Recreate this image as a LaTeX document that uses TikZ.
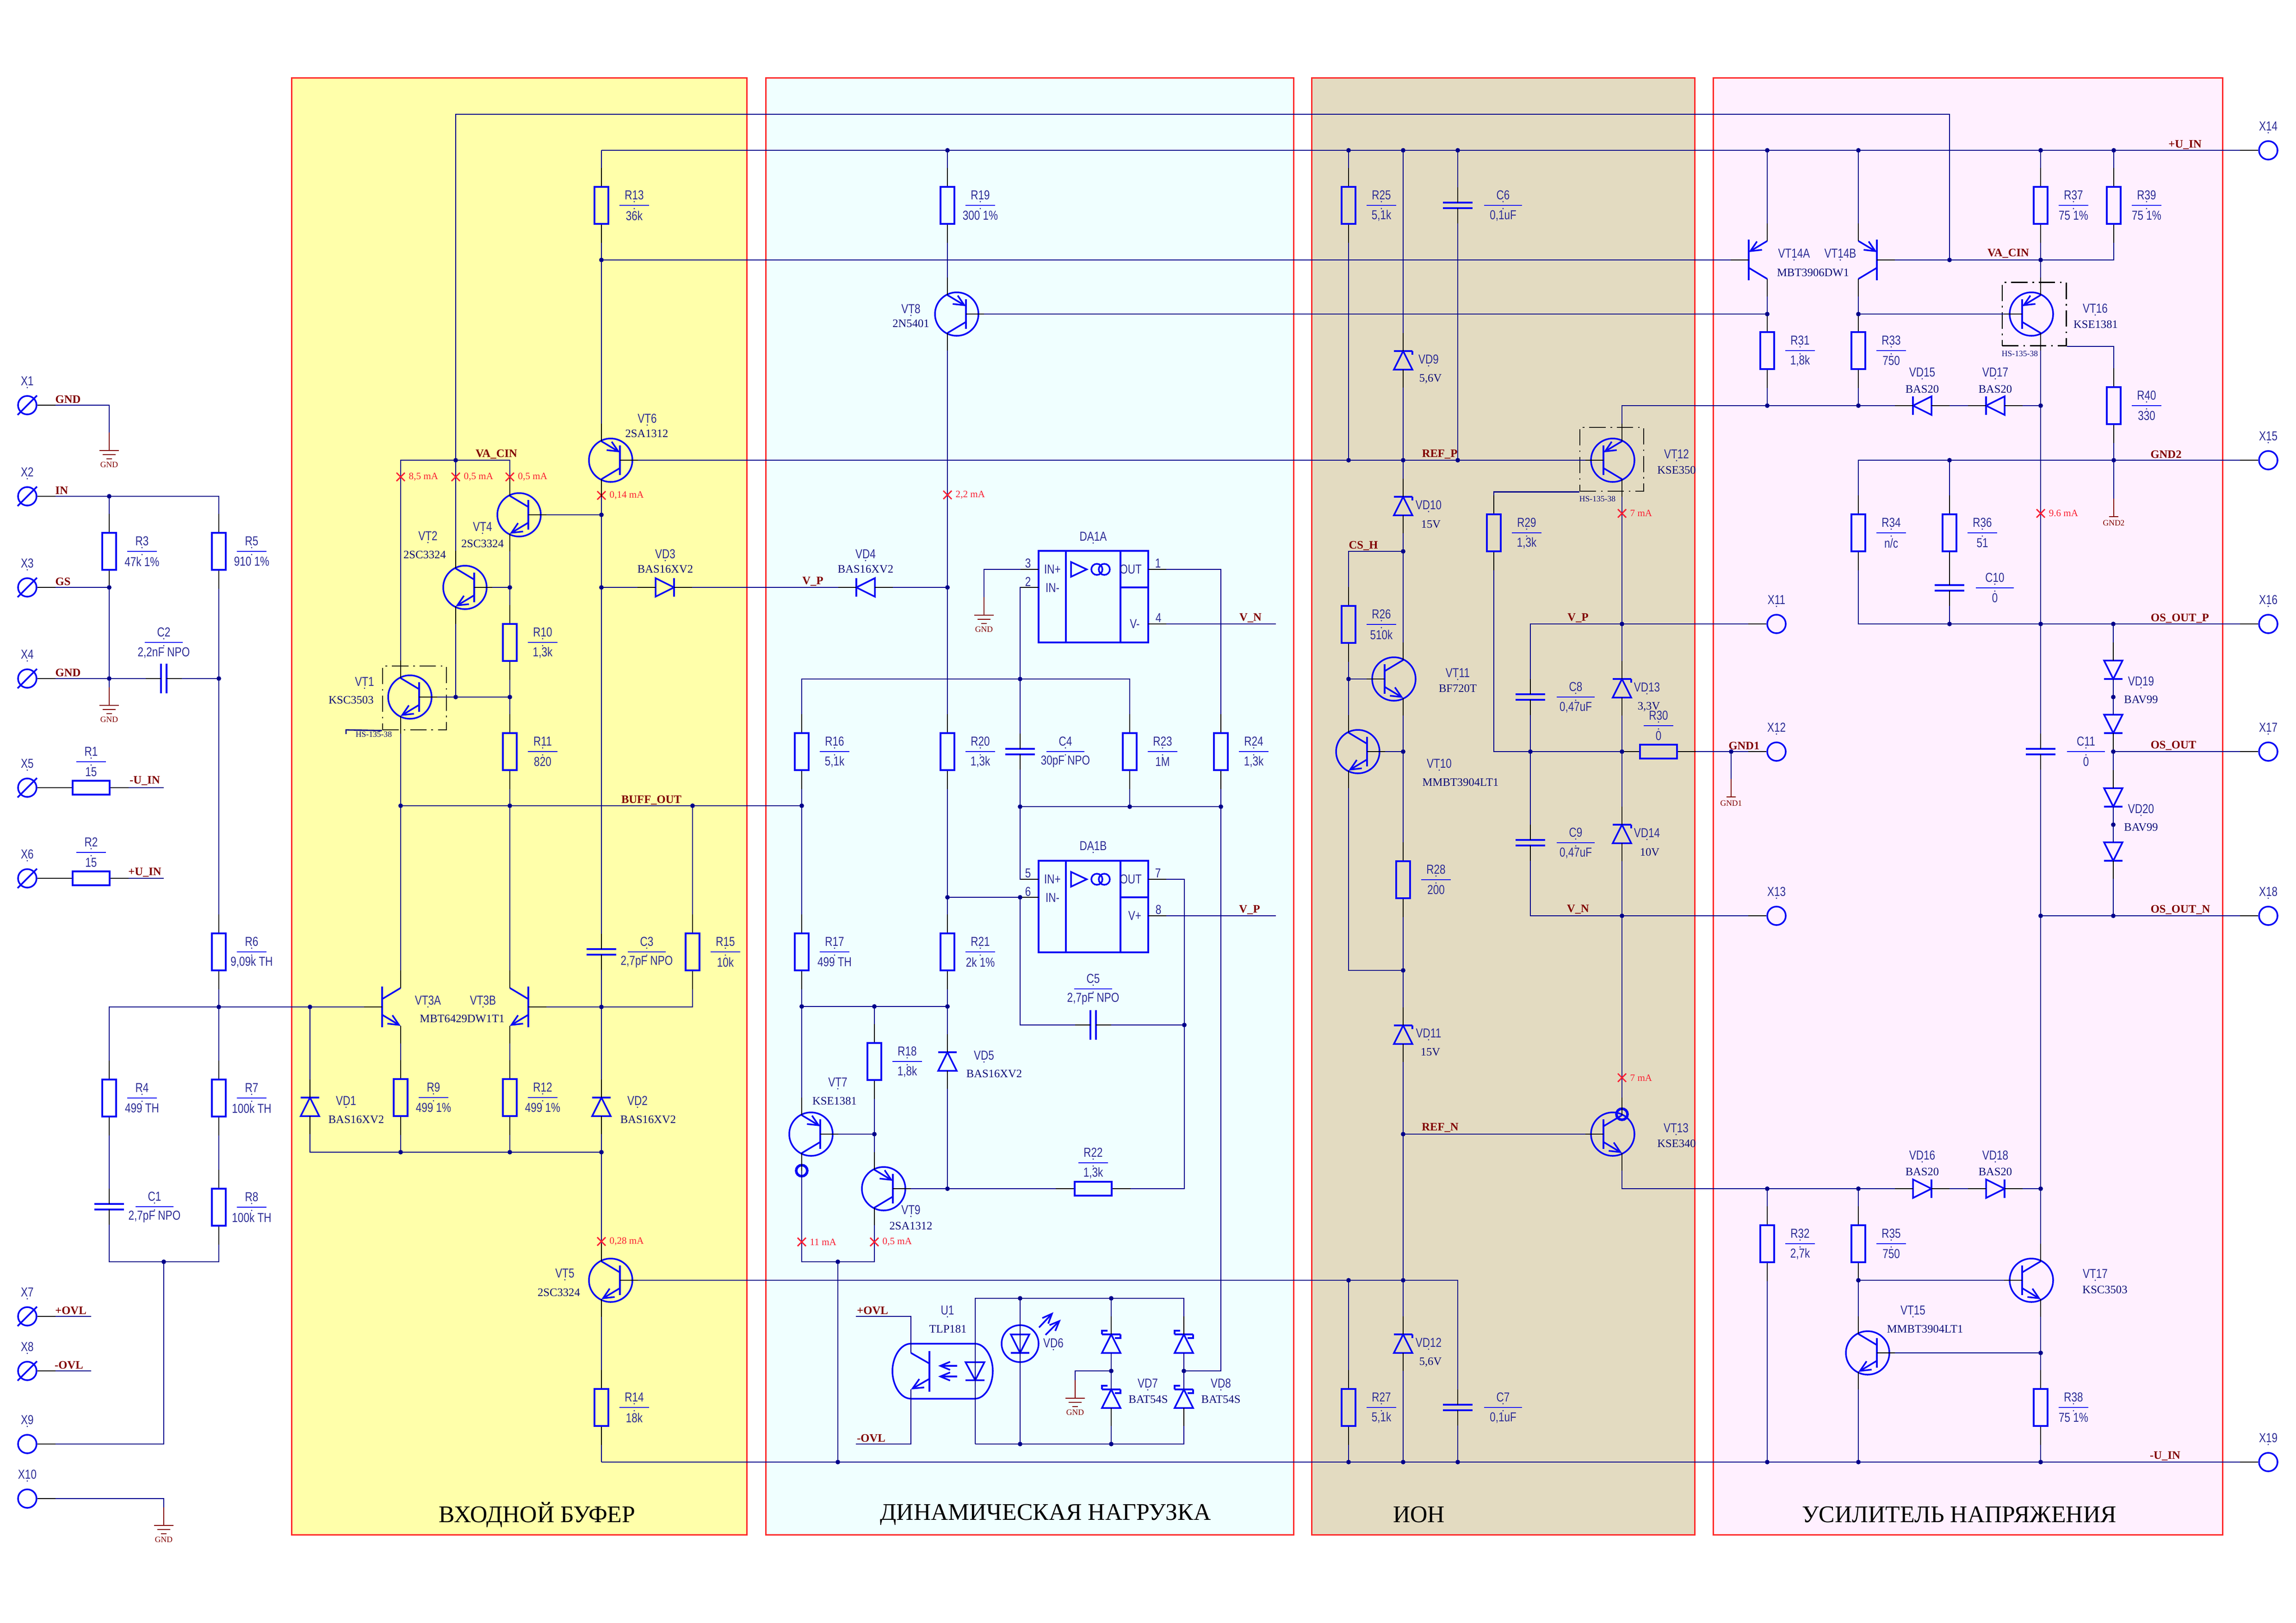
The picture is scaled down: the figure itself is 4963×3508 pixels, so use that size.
\documentclass[tikz,border=0pt]{standalone}
\usepackage{fontspec}
\setmainfont{Liberation Serif}
\newfontfamily\cad[FakeStretch=0.8]{Liberation Sans}
\usetikzlibrary{arrows.meta,calc}
\pgfdeclarelayer{top}\pgfsetlayers{main,top}
\definecolor{wirec}{RGB}{0,0,139}
\definecolor{compc}{RGB}{10,10,245}
\definecolor{cadc}{RGB}{45,45,150}
\definecolor{partc}{RGB}{12,12,120}
\definecolor{netc}{RGB}{128,0,0}
\definecolor{curc}{RGB}{250,30,50}
\definecolor{py}{RGB}{255,255,170}
\definecolor{pc}{RGB}{240,255,255}
\definecolor{pt}{RGB}{227,219,193}
\definecolor{pp}{RGB}{255,240,255}
\definecolor{pr}{RGB}{255,40,40}
\newcount\tcnt
\tikzset{
 wire/.style={draw=wirec,line width=.8pt},
 comp/.style={draw=compc,line width=1pt},
 stub/.style={draw=black,line width=.8pt},
 nostub/.style={draw=none},
 panel/.style={draw=pr,line width=.85pt},
 cadt/.style={inner sep=0,text=cadc,font=\cad\fontsize{8}{8}\selectfont},
 partt/.style={inner sep=0,text=partc,font=\fontsize{7}{7}\selectfont},
 nett/.style={inner sep=0,text=netc,font=\bfseries\fontsize{7}{7}\selectfont},
 titlet/.style={inner sep=0,text=black,font=\fontsize{14.7}{14.7}\selectfont},
 curt/.style={inner sep=0,text=curc,anchor=west,font=\fontsize{6}{6}\selectfont},
 gndt/.style={inner sep=0,text=netc,font=\fontsize{5}{5}\selectfont},
 hst/.style={inner sep=0,text=partc,font=\fontsize{5}{5}\selectfont},
 resv/.style={comp,inner sep=0,minimum width=.3cm,minimum height=.8cm},
 resh/.style={comp,inner sep=0,minimum width=.8cm,minimum height=.3cm},
 termc/.style={comp,circle,inner sep=0,minimum size=.4cm},
 hsbox/.style={draw=black,line width=.8pt,inner sep=0,dash pattern=on 10pt off 3pt on 1pt off 3pt},
 dirU/.style={x={(.01cm,0)},y={(0,-.01cm)}},
 dirD/.style={x={(.01cm,0)},y={(0,.01cm)}},
 dirL/.style={x={(0,.01cm)},y={(.01cm,0)}},
 dirR/.style={x={(0,.01cm)},y={(-.01cm,0)}},
 eout/.style={-{Straight Barb[length=6.5pt,width=6pt]}},
 ein/.style={{Straight Barb[length=6.5pt,width=6pt]}-},
 hsup/.style={-{Straight Barb[length=6pt,width=5pt]}},
}
% text helpers
\newcommand{\T}[4]{\global\advance\tcnt by 1\node[#1] (txt\the\tcnt) at (#2,#3) {#4};}
\newcommand{\tdot}[2]{\fill[cadc] (#1,#2) circle (1.6);}
\newcommand{\Cn}[3]{\T{cadt}{#1}{#2}{#3}\tdot{#1}{#2+14}}
\newcommand{\Cv}[3]{\T{cadt}{#1}{#2}{#3}\tdot{#1}{#2-15}}
\newcommand{\Pt}[3]{\T{partt}{#1}{#2}{#3}}
\newcommand{\Nt}[3]{\T{nett}{#1}{#2}{#3}}
% junction
\newcommand{\jn}[3]{\coordinate (#1) at (#2,#3);\begin{pgfonlayer}{top}\fill[wirec] (#1) circle (5);\end{pgfonlayer}}
% resistors: name,x,y,ref,val
\newcommand{\vres}[5]{\node[resv] (#1) at (#2,#3) {};
 \begin{pgfonlayer}{top}\draw[stub] (#1.north) -- ++(0,-39);\draw[stub] (#1.south) -- ++(0,39);\end{pgfonlayer}
 \begin{scope}[shift={(#2,#3)}]\draw[comp,line width=.7pt] (39,0) -- (103,0);\Cn{71}{-22}{#4}\Cv{71}{22}{#5}\end{scope}}
\newcommand{\hres}[5]{\node[resh] (#1) at (#2,#3) {};
 \begin{pgfonlayer}{top}\draw[stub] (#1.west) -- ++(-39,0);\draw[stub] (#1.east) -- ++(39,0);\end{pgfonlayer}
 \begin{scope}[shift={(#2,#3)}]\draw[comp,line width=.7pt] (-32,-56) -- (32,-56);\Cn{0}{-78}{#4}\Cv{0}{-34}{#5}\end{scope}}
% capacitors
\newcommand{\vcap}[5]{\begin{scope}[shift={(#2,#3)}]
 \coordinate (#1-u) at (0,-6);\coordinate (#1-d) at (0,6);
 \draw[comp] (-32,-6) -- (32,-6) (-32,6) -- (32,6);
 \begin{pgfonlayer}{top}\draw[stub] (0,-6) -- (0,-39) (0,6) -- (0,39);\end{pgfonlayer}
 \draw[comp,line width=.7pt] (57,0) -- (139,0);\Cn{98}{-22}{#4}\Cv{98}{22}{#5}\end{scope}}
\newcommand{\hcap}[5]{\begin{scope}[shift={(#2,#3)}]
 \coordinate (#1-l) at (-6,0);\coordinate (#1-r) at (6,0);
 \draw[comp] (-6,-32) -- (-6,32) (6,-32) -- (6,32);
 \begin{pgfonlayer}{top}\draw[stub] (-6,0) -- (-39,0) (6,0) -- (39,0);\end{pgfonlayer}
 \draw[comp,line width=.7pt] (-41,-78) -- (41,-78);\Cn{0}{-100}{#4}\Cv{0}{-56}{#5}\end{scope}}
% transistors: name,x,y,base side,emitter side,emitter arrow
\newcommand{\trbody}[3]{%
 \coordinate (#1-b) at (20,0);\coordinate (#1-c) at (-20,-41);\coordinate (#1-e) at (-20,41);
 \draw[comp] (20,-#2) -- (20,#2);
 \draw[comp] (20,-17) -- (-20,-41);
 \draw[comp,#3] (20,17) -- (-20,41);
 \begin{pgfonlayer}{top}\draw[stub] (20,0) -- (59,0) (-20,-41) -- (-20,-79) (-20,41) -- (-20,79);\end{pgfonlayer}}
\newcommand{\trn}[6]{\begin{scope}[shift={(#2,#3)},x={(#4*.01cm,0)},y={(0,#5*-.01cm)}]
 \draw[comp] (0,0) circle (47);\trbody{#1}{32}{#6}\end{scope}}
\newcommand{\trd}[6]{\begin{scope}[shift={(#2,#3)},x={(#4*.01cm,0)},y={(0,#5*-.01cm)}]
 \trbody{#1}{44}{#6}\end{scope}}
% diodes: [stub style] name,x,y,direction,bar drawing
\newcommand{\bplain}{}
\newcommand{\bzener}{\draw[comp] (20,-20) -- (20,-12);}
\newcommand{\bschot}{\draw[comp] (-20,-20) -- (-20,-28) -- (-8,-28) (20,-20) -- (20,-12) -- (8,-12);}
\newcommand{\dio}[6][stub]{\begin{scope}[shift={(#3,#4)},#5]
 \coordinate (#2-a) at (0,-20);\coordinate (#2-k) at (0,20);
 \draw[comp] (-20,20) -- (20,20) -- (0,-20) -- cycle;
 \draw[comp] (-20,-20) -- (20,-20);#6
 \begin{pgfonlayer}{top}\draw[#1] (0,-20) -- (0,-59) (0,20) -- (0,59);\end{pgfonlayer}\end{scope}}
% terminals
\newcommand{\termS}[4]{\node[termc] (#1) at (#2,#3) {};
 \draw[comp] (#2-21,#3+21) -- (#2+21,#3-21);
 \begin{pgfonlayer}{top}\draw[stub] (#1.east) -- ++(39,0);\end{pgfonlayer}\Cn{#2}{#3-52}{#4}}
\newcommand{\termL}[4]{\node[termc] (#1) at (#2,#3) {};
 \begin{pgfonlayer}{top}\draw[stub] (#1.east) -- ++(39,0);\end{pgfonlayer}\Cn{#2}{#3-52}{#4}}
\newcommand{\termR}[4]{\node[termc] (#1) at (#2,#3) {};
 \begin{pgfonlayer}{top}\draw[stub] (#1.west) -- ++(-39,0);\end{pgfonlayer}\Cn{#2}{#3-52}{#4}}
% grounds
\newcommand{\gnd}[4]{\coordinate (#1) at (#2,#3-39);
 \draw[draw=netc,line width=.8pt] (#2,#3-39) -- (#2,#3) (#2-21,#3) -- (#2+21,#3) (#2-14,#3+9) -- (#2+14,#3+9) (#2-6,#3+18) -- (#2+6,#3+18);
 \T{gndt}{#2}{#3+31}{#4}}
\newcommand{\gndT}[4]{\coordinate (#1) at (#2,#3-39);
 \draw[draw=netc,line width=.8pt] (#2,#3-39) -- (#2,#3) (#2-10,#3) -- (#2+10,#3);
 \T{gndt}{#2}{#3+14}{#4}}
% current marker
\newcommand{\cur}[3]{\draw[curc,line width=.8pt] (#1-9,#2-9) -- (#1+9,#2+9) (#1-9,#2+9) -- (#1+9,#2-9);\node[curt] at (#1+17,#2) {#3};}
% op amp block: name, top y, V pin offset, V text, last pin number, ...
\newcommand{\opamp}[8]{\node[comp,inner sep=0,minimum width=2.37cm,minimum height=1.98cm] (#1) at (2363.5,#2+99) {};
 \begin{scope}[shift={(0,#2)}]
 \coordinate (#1-p) at (2245,40);\coordinate (#1-n) at (2245,79);\coordinate (#1-o) at (2482,40);\coordinate (#1-v) at (2482,#3);
 \draw[comp] (2304,0) -- (2304,198) (2422,0) -- (2422,198) (2422,79) -- (2482,79);
 \draw[comp] (2315,24) -- (2315,56) -- (2349,40) -- cycle;
 \draw[comp] (2371,40) circle (12) (2387,40) circle (12);
 \T{cadt}{2275}{40}{IN+}\T{cadt}{2275}{80}{IN-}\T{cadt}{2444}{40}{OUT}\T{cadt}{2453}{#3}{#4}
 \T{cadt}{2222}{27}{#5}\T{cadt}{2222}{67}{#6}\T{cadt}{2503}{27}{#7}\T{cadt}{2504}{#3-13}{#8}
 \begin{pgfonlayer}{top}\draw[stub] (2245,40) -- (2206,40) (2245,79) -- (2206,79) (2482,40) -- (2521,40) (2482,#3) -- (2521,#3);\end{pgfonlayer}
 \end{scope}}
\begin{document}
\begin{tikzpicture}[x=.01cm,y=-.01cm]
\useasboundingbox (0,0) rectangle (4963,3508);
\fill[white] (0,0) rectangle (4963,3508);
% ---------- panels
\filldraw[panel,fill=py] (630,168) rectangle (1614,3318);
\filldraw[panel,fill=pc] (1655,168) rectangle (2796,3318);
\filldraw[panel,fill=pt] (2835,168) rectangle (3663,3318);
\filldraw[panel,fill=pp] (3703,168) rectangle (4804,3318);
\T{titlet}{1161}{3275}{ВХОДНОЙ БУФЕР}
\T{titlet}{2260}{3275}{ДИНАМИЧЕСКАЯ НАГРУЗКА}
\T{titlet}{3067}{3275}{ИОН}
\T{titlet}{4235}{3275}{УСИЛИТЕЛЬ НАПРЯЖЕНИЯ}
% ---------- terminals
\termS{X1}{59}{876}{X1}\termS{X2}{59}{1073}{X2}\termS{X3}{59}{1270}{X3}\termS{X4}{59}{1467}{X4}
\termS{X5}{59}{1703}{X5}\termS{X6}{59}{1899}{X6}\termS{X7}{59}{2846}{X7}\termS{X8}{59}{2964}{X8}
\termL{X9}{59}{3122}{X9}\termL{X10}{59}{3240}{X10}
\termR{X11}{3840}{1349}{X11}\termR{X12}{3840}{1625}{X12}\termR{X13}{3840}{1980}{X13}
\termR{X14}{4903}{325}{X14}\termR{X15}{4903}{995}{X15}\termR{X16}{4903}{1349}{X16}
\termR{X17}{4903}{1625}{X17}\termR{X18}{4903}{1980}{X18}\termR{X19}{4903}{3161}{X19}
% ---------- grounds
\gnd{G1}{236}{974}{GND}\gnd{G2}{236}{1525}{GND}\gnd{G3}{354}{3298}{GND}
\gnd{G4}{2127}{1330}{GND}\gnd{G5}{2324}{3023}{GND}
\gndT{G6}{3742}{1723}{GND1}\gndT{G7}{4569}{1117}{GND2}
% ---------- resistors
\hres{R1}{197}{1703}{R1}{15}\hres{R2}{197}{1899}{R2}{15}
\vres{R3}{236}{1192}{R3}{47k 1\%}\vres{R5}{473}{1192}{R5}{910 1\%}
\vres{R6}{473}{2058}{R6}{9,09k TH}
\vres{R4}{236}{2374}{R4}{499 TH}\vres{R7}{473}{2374}{R7}{100k TH}\vres{R8}{473}{2610}{R8}{100k TH}
\vres{R9}{866}{2373}{R9}{499 1\%}\vres{R12}{1102}{2373}{R12}{499 1\%}
\vres{R10}{1102}{1389}{R10}{1,3k}\vres{R11}{1102}{1625}{R11}{820}
\vres{R13}{1300}{444}{R13}{36k}\vres{R14}{1300}{3043}{R14}{18k}\vres{R15}{1497}{2058}{R15}{10k}
\vres{R16}{1733}{1625}{R16}{5,1k}\vres{R17}{1733}{2058}{R17}{499 TH}\vres{R18}{1890}{2295}{R18}{1,8k}
\vres{R19}{2048}{444}{R19}{300 1\%}\vres{R20}{2048}{1625}{R20}{1,3k}\vres{R21}{2048}{2058}{R21}{2k 1\%}
\hres{R22}{2363}{2570}{R22}{1,3k}
\vres{R23}{2442}{1625}{R23}{1M}\vres{R24}{2639}{1625}{R24}{1,3k}
\vres{R25}{2915}{444}{R25}{5,1k}\vres{R26}{2915}{1350}{R26}{510k}\vres{R27}{2915}{3043}{R27}{5,1k}
\vres{R28}{3033}{1902}{R28}{200}\vres{R29}{3229}{1152}{R29}{1,3k}
\hres{R30}{3585}{1625}{R30}{0}
\vres{R31}{3820}{758}{R31}{1,8k}\vres{R32}{3820}{2689}{R32}{2,7k}
\vres{R33}{4017}{758}{R33}{750}\vres{R34}{4017}{1152}{R34}{n/c}\vres{R35}{4017}{2689}{R35}{750}
\vres{R36}{4214}{1152}{R36}{51}
\vres{R37}{4411}{444}{R37}{75 1\%}\vres{R38}{4411}{3043}{R38}{75 1\%}
\vres{R39}{4569}{444}{R39}{75 1\%}\vres{R40}{4569}{877}{R40}{330}
% ---------- capacitors
\vcap{C1}{236}{2609}{C1}{2,7pF NPO}
\hcap{C2}{354}{1467}{C2}{2,2nF NPO}
\vcap{C3}{1300}{2058}{C3}{2,7pF NPO}
\vcap{C4}{2205}{1625}{C4}{30pF NPO}
\hcap{C5}{2363}{2216}{C5}{2,7pF NPO}
\vcap{C6}{3151}{444}{C6}{0,1uF}\vcap{C7}{3151}{3043}{C7}{0,1uF}
\vcap{C8}{3308}{1507}{C8}{0,47uF}\vcap{C9}{3308}{1822}{C9}{0,47uF}
\vcap{C10}{4214}{1271}{C10}{0}\vcap{C11}{4411}{1625}{C11}{0}
% ---------- transistors
\trn{VT1}{886}{1507}{1}{1}{eout}
\trn{VT2}{1005}{1270}{1}{1}{eout}
\trn{VT4}{1122}{1113}{1}{1}{eout}
\trn{VT6}{1320}{995}{1}{-1}{ein}
\trn{VT5}{1320}{2768}{1}{1}{eout}
\trd{VT3A}{846}{2177}{-1}{1}{eout}
\trd{VT3B}{1122}{2177}{1}{1}{eout}
\trn{VT7}{1753}{2452}{1}{-1}{ein}
\trn{VT9}{1910}{2570}{1}{-1}{ein}
\trn{VT8}{2068}{679}{1}{-1}{ein}
\trn{VT10}{2935}{1625}{1}{1}{eout}
\trn{VT11}{3013}{1468}{-1}{1}{eout}
\trn{VT12}{3486}{995}{-1}{-1}{ein}
\trn{VT13}{3486}{2452}{-1}{1}{eout}
\trd{VT14A}{3800}{562}{-1}{-1}{ein}
\trd{VT14B}{4037}{562}{1}{-1}{ein}
\trn{VT15}{4037}{2925}{1}{1}{eout}
\trn{VT16}{4391}{679}{-1}{-1}{ein}
\trn{VT17}{4391}{2768}{-1}{1}{eout}
% heat sink boxes
\node[hsbox,minimum width=1.38cm,minimum height=1.38cm] (HS1) at (896,1509) {};
\node[hsbox,minimum width=1.38cm,minimum height=1.38cm] (HS12) at (3484,993) {};
\node[hsbox,minimum width=1.38cm,minimum height=1.37cm] (HS16) at (4397,679) {};
\T{hst}{808}{1588}{HS-135-38}\T{hst}{3453}{1079}{HS-135-38}\T{hst}{4366}{765}{HS-135-38}
\coordinate (hs1t) at (748,1578);
\draw[wire] (HS1.south west) -- (hs1t) -- ++(0,9);
% rings
\coordinate (ringA) at (1733,2531);\coordinate (ringB) at (3506,2409);
\draw[comp,line width=1.6pt] (ringA) circle (12) (ringB) circle (12);
% ---------- diodes
\dio{VD1}{670}{2393}{dirU}{\bplain}
\dio{VD2}{1300}{2393}{dirU}{\bplain}
\dio{VD3}{1437}{1270}{dirR}{\bplain}
\dio{VD4}{1871}{1270}{dirL}{\bplain}
\dio{VD5}{2048}{2295}{dirU}{\bplain}
\dio{VD9}{3033}{779}{dirU}{\bzener}
\dio{VD10}{3033}{1094}{dirU}{\bzener}
\dio{VD11}{3033}{2237}{dirU}{\bzener}
\dio{VD12}{3033}{2905}{dirU}{\bzener}
\dio{VD13}{3506}{1488}{dirU}{\bzener}
\dio{VD14}{3506}{1803}{dirU}{\bzener}
\dio{VD15}{4155}{877}{dirL}{\bplain}
\dio{VD17}{4313}{877}{dirL}{\bplain}
\dio{VD16}{4155}{2570}{dirR}{\bplain}
\dio{VD18}{4313}{2570}{dirR}{\bplain}
\dio[nostub]{VD19a}{4568}{1448}{dirD}{\bplain}
\dio[nostub]{VD19b}{4568}{1565}{dirD}{\bplain}
\dio[nostub]{VD20a}{4568}{1724}{dirD}{\bplain}
\dio[nostub]{VD20b}{4568}{1841}{dirD}{\bplain}
\dio[nostub]{VD7a}{2402}{2905}{dirU}{\bschot}
\dio[nostub]{VD7b}{2402}{3024}{dirU}{\bschot}
\dio[nostub]{VD8a}{2559}{2905}{dirU}{\bschot}
\dio[nostub]{VD8b}{2559}{3024}{dirU}{\bschot}
\begin{pgfonlayer}{top}
\draw[stub] (VD19a-k) -- ++(0,-39) (VD19b-a) -- ++(0,39) (VD20a-k) -- ++(0,-39) (VD20b-a) -- ++(0,39);
\draw[stub] (VD7a-a) -- ++(0,-39) (VD7b-k) -- ++(0,39) (VD8a-a) -- ++(0,-39) (VD8b-k) -- ++(0,39);
\end{pgfonlayer}
% VD6 LED
\dio[nostub]{VD6}{2205}{2905}{dirD}{\bplain}
\draw[comp] (VD6-a |- 0,2905) circle (40);
\draw[comp,hsup] (2246,2870) -- (2277,2837);
\draw[comp,hsup] (2260,2886) -- (2293,2853);
% U1 optocoupler
\draw[comp] (1969,2905) -- (2107,2905) .. controls (2130,2905) and (2146,2935) .. (2146,2964) .. controls (2146,2994) and (2130,3024) .. (2107,3024) -- (1969,3024) .. controls (1946,3024) and (1929,2994) .. (1929,2964) .. controls (1929,2935) and (1946,2905) .. (1969,2905) -- cycle;
\coordinate (U1c) at (1969,2925);\coordinate (U1e) at (1969,3004);
\draw[comp] (2009,2921) -- (2009,3009);
\draw[comp] (2009,2948) -- (U1c);
\draw[comp,eout] (2009,2981) -- (U1e);
\draw[comp,hsup] (2069,2953) -- (2028,2953);
\draw[comp,hsup] (2069,2976) -- (2028,2976);
\draw[comp] (2087,2945) -- (2128,2945) -- (2108,2984) -- cycle (2087,2984) -- (2128,2984);
% op amps
\opamp{DA1A}{1191}{158}{V-}{3}{2}{1}{4}
\opamp{DA1B}{1861}{119}{V+}{5}{6}{7}{8}
% ---------- junctions
\jn{jIN}{236}{1073}\jn{jGS}{236}{1270}\jn{jX4}{236}{1467}\jn{jC2}{473}{1467}
\jn{jR6}{473}{2177}\jn{jD1}{670}{2177}\jn{jBot}{354}{2728}
\jn{jVA1}{985}{995}\jn{jE2}{985}{1507}\jn{jB10}{1102}{1507}\jn{jR10}{1102}{1270}
\jn{jB2}{1102}{1742}\jn{jB1}{866}{1742}\jn{jB3}{1497}{1742}\jn{jB4}{1733}{1742}
\jn{j1113}{1300}{1113}\jn{j1270}{1300}{1270}\jn{jC3}{1300}{2177}
\jn{j9}{866}{2491}\jn{j12}{1102}{2491}\jn{jb1300}{1300}{2491}\jn{jV14}{1300}{562}
\coordinate (jU1) at (1300,325);\jn{jU2}{2048}{325}\jn{jU3}{2915}{325}\jn{jU4}{3033}{325}\jn{jU5}{3151}{325}
\jn{jU6}{3820}{325}\jn{jU7}{4017}{325}\jn{jU8}{4411}{325}\jn{jU9}{4569}{325}
\coordinate (jN0) at (1300,3161);\jn{jN1}{1811}{3161}\jn{jN2}{2915}{3161}\jn{jN3}{3033}{3161}\jn{jN4}{3151}{3161}
\jn{jN5}{3820}{3161}\jn{jN6}{4017}{3161}\jn{jN7}{4411}{3161}
\coordinate (topR) at (4214,247);\jn{jVA3}{4214}{562}\jn{jVA4}{4411}{562}
\jn{jR1}{2915}{995}\jn{jR2}{3033}{995}\jn{jR3}{3151}{995}
\jn{jCS}{3033}{1192}\jn{j1468}{2915}{1468}\jn{j1625}{3033}{1625}\jn{j2098}{3033}{2098}
\jn{jREFN}{3033}{2452}\jn{jL1}{2915}{2768}\jn{jL2}{3033}{2768}
\jn{jVP}{3506}{1349}\jn{jC8}{3308}{1625}\jn{jG}{3506}{1625}\jn{jVN}{3506}{1980}\jn{jG1}{3742}{1625}
\jn{j679L}{3820}{679}\jn{j679R}{4017}{679}\jn{j877a}{3820}{877}\jn{j877b}{4017}{877}\jn{j877R}{4411}{877}
\jn{jG36}{4214}{995}\jn{jG40}{4569}{995}\jn{jP36}{4214}{1349}\jn{jOP}{4411}{1349}\jn{jOP2}{4568}{1349}
\jn{jO}{4568}{1625}\jn{jON}{4568}{1980}\jn{jON0}{4411}{1980}
\jn{j2570a}{3820}{2570}\jn{j2570b}{4017}{2570}\jn{j2570R}{4411}{2570}\jn{j2768}{4017}{2768}\jn{jV15}{4411}{2925}
\jn{j2048a}{2048}{1270}\jn{j1940}{2048}{1940}\jn{j2176}{2048}{2176}\jn{j2570c}{2048}{2570}
\jn{j1733}{1733}{2176}\jn{j1890}{1890}{2176}\jn{j2452}{1890}{2452}\jn{jBot3}{1811}{2728}
\jn{ja205}{2205}{1468}\jn{jb205}{2205}{1744}\jn{jc205}{2205}{1940}\jn{j2442}{2442}{1744}\jn{jR24}{2639}{1744}\jn{j2216}{2560}{2216}
\jn{jO1}{2205}{2807}\jn{jO2}{2402}{2807}\jn{jO3}{2205}{3122}\jn{jO4}{2402}{3122}
\jn{jM7}{2402}{2964}\jn{jM8}{2559}{2964}\jn{jm19}{4568}{1507}\jn{jm20}{4568}{1783}
\coordinate (vn) at (2758,1349);\coordinate (vp) at (2758,1980);
\coordinate (e1) at (354,1703);\coordinate (e2) at (354,1899);\coordinate (e7) at (197,2846);\coordinate (e8) at (197,2964);
\coordinate (oP) at (1850,2846);\coordinate (oN) at (1850,3122);
\coordinate (oTL) at (2108,2807);\coordinate (oBL) at (2108,3122);\coordinate (oTR) at (2559,2807);\coordinate (oBR) at (2559,3122);
% ---------- wires, left
\draw[wire] (X1.east) -| (G1);
\draw[wire] (X2.east) -- (jIN) -| (R5.north);
\draw[wire] (jIN) -- (R3.north);
\draw[wire] (R3.south) -- (jGS) -- (jX4) -- (G2);
\draw[wire] (X3.east) -- (jGS);
\draw[wire] (X4.east) -- (jX4) -- (C2-l);
\draw[wire] (C2-r) -- (jC2);
\draw[wire] (R5.south) -- (jC2) -- (R6.north);
\draw[wire] (R6.south) -- (jR6) -- (R7.north);
\draw[wire] (R7.south) -- (R8.north);
\draw[wire] (R8.south) |- (jBot);
\draw[wire] (jR6) -| (R4.north);
\draw[wire] (R4.south) -- (C1-u);
\draw[wire] (C1-d) |- (jBot);
\draw[wire] (jBot) |- (X9.east);
\draw[wire] (X10.east) -| (G3);
\draw[wire] (X5.east) -- (R1.west);\draw[wire] (R1.east) -- (e1);
\draw[wire] (X6.east) -- (R2.west);\draw[wire] (R2.east) -- (e2);
\draw[wire] (X7.east) -- (e7);\draw[wire] (X8.east) -- (e8);
% ---------- wires, input buffer
\draw[wire] (jR6) -- (jD1) -- (VT3A-b);
\draw[wire] (jD1) -- (VD1-a);
\draw[wire] (VD1-k) |- (j9);\draw[wire] (j9) -- (j12) -- (jb1300);
\draw[wire] (VT1-c) |- (jVA1) -| (VT4-c);
\draw[wire] (VT2-c) -- (jVA1);
\draw[wire] (jVA1) |- (topR) -- (jVA3);
\draw[wire] (VT1-e) -- (jB1) -- (VT3A-c);
\draw[wire] (VT4-e) -- (jR10) -- (R10.north);
\draw[wire] (VT2-b) -- (jR10);
\draw[wire] (R10.south) -- (jB10) -- (R11.north);
\draw[wire] (VT1-b) -- (jE2) -- (jB10);
\draw[wire] (VT2-e) -- (jE2);
\draw[wire] (R11.south) -- (jB2) -- (VT3B-c);
\draw[wire] (jB1) -- (jB2) -- (jB3) -- (jB4);
\draw[wire] (jB3) -- (R15.north);
\draw[wire] (VT3A-e) -- (R9.north);\draw[wire] (R9.south) -- (j9);
\draw[wire] (VT3B-e) -- (R12.north);\draw[wire] (R12.south) -- (j12);
\draw[wire] (jU1) -- (R13.north);
\draw[wire] (R13.south) -- (jV14) -- (VT6-e);
\draw[wire] (VT6-c) -- (j1113) -- (j1270) -- (C3-u);
\draw[wire] (VT4-b) -- (j1113);
\draw[wire] (C3-d) -- (jC3) -- (VD2-a);
\draw[wire] (VD2-k) -- (jb1300) -- (VT5-c);
\draw[wire] (VT5-e) -- (R14.north);
\draw[wire] (R14.south) -- (jN0);
\draw[wire] (VT3B-b) -- (jC3) -| (R15.south);
\draw[wire] (j1270) -- (VD3-k);
\draw[wire] (VD3-a) -- (VD4-a);
\draw[wire] (VD4-k) -- (j2048a);
% ---------- buses
\draw[wire] (jU1) -- (jU2) -- (jU3) -- (jU4) -- (jU5) -- (jU6) -- (jU7) -- (jU8) -- (jU9) -- (X14.west);
\draw[wire] (jN0) -- (jN1) -- (jN2) -- (jN3) -- (jN4) -- (jN5) -- (jN6) -- (jN7) -- (X19.west);
\draw[wire] (jV14) -- (VT14A-b);
\draw[wire] (VT5-b) -- (jL1) -- (jL2) -| (C7-u);
\draw[wire] (VT6-b) -- (jR1) -- (jR2) -- (jR3) -- (VT12-b);
\draw[wire] (VT8-b) -- (j679L);
% ---------- dynamic load
\draw[wire] (jU2) -- (R19.north);
\draw[wire] (R19.south) -- (VT8-e);
\draw[wire] (VT8-c) -- (j2048a) -- (R20.north);
\draw[wire] (R20.south) -- (j1940) -- (R21.north);
\draw[wire] (R21.south) -- (j2176) -- (VD5-a);
\draw[wire] (VD5-k) -- (j2570c);
\draw[wire] (R16.south) -- (jB4) -- (R17.north);
\draw[wire] (R16.north) |- (ja205) -| (R23.north);
\draw[wire] (R17.south) -- (j1733) -- (j1890) -- (j2176);
\draw[wire] (j1733) -- (VT7-e);
\draw[wire] (j1890) -- (R18.north);
\draw[wire] (R18.south) -- (j2452) -- (VT9-e);
\draw[wire] (VT7-b) -- (j2452);
\draw[wire] (VT7-c) |- (jBot3);
\draw[wire] (VT9-c) |- (jBot3);
\draw[wire] (jBot3) -- (jN1);
\draw[wire] (VT9-b) -- (j2570c) -- (R22.west);
\draw[wire] (R22.east) -| (j2216);
\draw[wire] (C5-r) -- (j2216);
\draw[wire] (j2216) |- (DA1B-o);
\draw[wire] (DA1A-p) -| (G4);
\draw[wire] (DA1A-n) -| (ja205);
\draw[wire] (ja205) -- (C4-u);
\draw[wire] (C4-d) -- (jb205) |- (DA1B-p);
\draw[wire] (j1940) -- (jc205) -- (DA1B-n);
\draw[wire] (jc205) |- (C5-l);
\draw[wire] (jb205) -- (j2442) -- (jR24);
\draw[wire] (R23.south) -- (j2442);
\draw[wire] (R24.south) -- (jR24);
\draw[wire] (R24.north) |- (DA1A-o);
\draw[wire] (jR24) |- (jM8);
\draw[wire] (DA1A-v) -- (vn);
\draw[wire] (DA1B-v) -- (vp);
% U1 / overload
\draw[wire] (oP) -| (U1c);
\draw[wire] (oN) -| (U1e);
\draw[wire] (oBL) -- (oTL) -- (jO1) -- (jO2) -- (oTR) -- (VD8a-a);
\draw[wire] (oBL) -- (jO3) -- (jO4) -- (oBR) -- (VD8b-k);
\draw[wire] (jO1) -- (jO3);
\draw[wire] (jO2) -- (VD7a-a);
\draw[wire] (VD7a-k) -- (jM7) -- (VD7b-a);
\draw[wire] (VD7b-k) -- (jO4);
\draw[wire] (VD8a-k) -- (jM8) -- (VD8b-a);
\draw[wire] (jM7) -| (G5);
% ---------- reference
\draw[wire] (jU3) -- (R25.north);
\draw[wire] (R25.south) -- (jR1);
\draw[wire] (jU4) -- (VD9-a);
\draw[wire] (VD9-k) -- (jR2) -- (VD10-a);
\draw[wire] (VD10-k) -- (jCS) -| (R26.north);
\draw[wire] (jCS) -- (VT11-c);
\draw[wire] (R26.south) -- (j1468) -- (VT11-b);
\draw[wire] (j1468) -- (VT10-c);
\draw[wire] (VT11-e) -- (j1625) -- (R28.north);
\draw[wire] (VT10-b) -- (j1625);
\draw[wire] (VT10-e) |- (j2098);
\draw[wire] (R28.south) -- (j2098) -- (VD11-a);
\draw[wire] (VD11-k) -- (jREFN) -- (jL2) -- (VD12-a);
\draw[wire] (VD12-k) -- (jN3);
\draw[wire] (jREFN) -- (VT13-b);
\draw[wire] (jL1) -- (R27.north);
\draw[wire] (R27.south) -- (jN2);
\draw[wire] (C7-d) -- (jN4);
\draw[wire] (jU5) -- (C6-u);
\draw[wire] (C6-d) -- (jR3);
\draw[wire] (HS12.south west) -| (R29.north);
\draw[wire] (R29.south) |- (jC8);
\draw[wire] (jC8) -- (jG) -- (R30.west);
\draw[wire] (R30.east) -- (jG1) -- (X12.west);
\draw[wire] (jG1) -- (G6);
\draw[wire] (C8-u) |- (jVP);
\draw[wire] (jVP) -- (X11.west);
\draw[wire] (C8-d) -- (jC8) -- (C9-u);
\draw[wire] (C9-d) |- (jVN);
\draw[wire] (jVN) -- (X13.west);
\draw[wire] (VT12-c) -- (jVP) -- (VD13-a);
\draw[wire] (VD13-k) -- (jG) -- (VD14-a);
\draw[wire] (VD14-k) -- (jVN) -- (VT13-c);
% ---------- voltage amplifier
\draw[wire] (VT12-e) |- (j877a);
\draw[wire] (j877a) -- (j877b) -- (VD15-a);
\draw[wire] (VD15-k) -- (VD17-a);
\draw[wire] (VD17-k) -- (j877R);
\draw[wire] (jU6) -- (VT14A-e);
\draw[wire] (jU7) -- (VT14B-e);
\draw[wire] (VT14A-c) -- (j679L) -- (R31.north);
\draw[wire] (R31.south) -- (j877a);
\draw[wire] (VT14B-c) -- (j679R) -- (R33.north);
\draw[wire] (R33.south) -- (j877b);
\draw[wire] (j679R) -- (VT16-b);
\draw[wire] (VT14B-b) -- (jVA3) -- (jVA4) -| (R39.south);
\draw[wire] (jU8) -- (R37.north);
\draw[wire] (jU9) -- (R39.north);
\draw[wire] (R37.south) -- (jVA4) -- (VT16-e);
\draw[wire] (VT16-c) -- (j877R) -- (jOP) -- (C11-u);
\draw[wire] (C11-d) -- (jON0) -- (j2570R) -- (VT17-c);
\draw[wire] (HS16.south east) -| (R40.north);
\draw[wire] (R40.south) -- (jG40) -- (G7);
\draw[wire] (R34.north) |- (jG36);
\draw[wire] (jG36) -- (jG40) -- (X15.west);
\draw[wire] (jG36) -- (R36.north);
\draw[wire] (R36.south) -- (C10-u);
\draw[wire] (C10-d) -- (jP36);
\draw[wire] (R34.south) |- (jP36);
\draw[wire] (jP36) -- (jOP) -- (jOP2) -- (X16.west);
\draw[wire] (jOP2) -- (VD19a-k);
\draw[wire] (VD19a-a) -- (jm19) -- (VD19b-k);
\draw[wire] (VD19b-a) -- (jO) -- (VD20a-k);
\draw[wire] (VD20a-a) -- (jm20) -- (VD20b-k);
\draw[wire] (VD20b-a) -- (jON) -- (X18.west);
\draw[wire] (jON) -- (jON0);
\draw[wire] (jO) -- (X17.west);
\draw[wire] (VT13-e) |- (j2570a);
\draw[wire] (j2570a) -- (j2570b) -- (VD16-k);
\draw[wire] (VD16-a) -- (VD18-k);
\draw[wire] (VD18-a) -- (j2570R);
\draw[wire] (j2570a) -- (R32.north);
\draw[wire] (R32.south) -- (jN5);
\draw[wire] (j2570b) -- (R35.north);
\draw[wire] (R35.south) -- (j2768) -- (VT15-c);
\draw[wire] (j2768) -- (VT17-b);
\draw[wire] (VT15-b) -- (jV15);
\draw[wire] (VT15-e) -- (jN6);
\draw[wire] (VT17-e) -- (jV15) -- (R38.north);
\draw[wire] (R38.south) -- (jN7);
% ---------- net labels
\T{nett,anchor=west}{119}{863}{GND}\T{nett,anchor=west}{119}{1060}{IN}\T{nett,anchor=west}{119}{1257}{GS}\T{nett,anchor=west}{119}{1454}{GND}
\Nt{313}{1688}{-U\_IN}\Nt{313}{1886}{+U\_IN}\Nt{153}{2833}{+OVL}\Nt{149}{2951}{-OVL}
\Nt{1073}{982}{VA\_CIN}\Nt{1408}{1730}{BUFF\_OUT}\Nt{1757}{1257}{V\_P}
\Nt{2703}{1336}{V\_N}\Nt{2701}{1967}{V\_P}\Nt{1886}{2833}{+OVL}\Nt{1883}{3109}{-OVL}
\Nt{3112}{982}{REF\_P}\Nt{2947}{1180}{CS\_H}\Nt{3113}{2438}{REF\_N}\Nt{3411}{1336}{V\_P}\Nt{3411}{1966}{V\_N}\Nt{3770}{1612}{GND1}
\Nt{4723}{313}{+U\_IN}\Nt{4341}{548}{VA\_CIN}\Nt{4682}{982}{GND2}\Nt{4712}{1337}{OS\_OUT\_P}\Nt{4698}{1612}{OS\_OUT}\Nt{4713}{1967}{OS\_OUT\_N}\Nt{4680}{3148}{-U\_IN}
% ---------- part labels
\Cn{788}{1474}{VT1}\Pt{759}{1513}{KSC3503}
\Cn{925}{1159}{VT2}\Pt{918}{1199}{2SC3324}
\Cn{1043}{1139}{VT4}\Pt{1043}{1175}{2SC3324}
\Cn{1399}{905}{VT6}\Pt{1398}{937}{2SA1312}
\Cn{925}{2163}{VT3A}\Cn{1044}{2163}{VT3B}\Pt{999}{2203}{MBT6429DW1T1}
\Cn{748}{2380}{VD1}\Pt{770}{2420}{BAS16XV2}
\Cn{1378}{2380}{VD2}\Pt{1401}{2420}{BAS16XV2}
\Cn{1221}{2753}{VT5}\Pt{1208}{2794}{2SC3324}
\Cn{1438}{1198}{VD3}\Pt{1438}{1231}{BAS16XV2}
\Cn{1871}{1198}{VD4}\Pt{1871}{1231}{BAS16XV2}
\Cn{2127}{2282}{VD5}\Pt{2149}{2321}{BAS16XV2}
\Cn{1811}{2340}{VT7}\Pt{1804}{2380}{KSE1381}
\Cn{1969}{2616}{VT9}\Pt{1969}{2650}{2SA1312}
\Cn{1969}{668}{VT8}\Pt{1969}{699}{2N5401}
\Cn{2363}{1160}{DA1A}\Cn{2363}{1829}{DA1B}
\Cn{2048}{2833}{U1}\Pt{2049}{2873}{TLP181}
\Cn{2277}{2904}{VD6}
\Cn{2481}{2991}{VD7}\Pt{2482}{3025}{BAT54S}
\Cn{2639}{2991}{VD8}\Pt{2639}{3025}{BAT54S}
\Cn{3088}{777}{VD9}\Pt{3092}{819}{5,6V}
\Cn{3088}{1092}{VD10}\Pt{3093}{1134}{15V}
\Cn{3151}{1455}{VT11}\Pt{3151}{1488}{BF720T}
\Cn{3111}{1651}{VT10}\Pt{3157}{1691}{MMBT3904LT1}
\Cn{3624}{982}{VT12}\Pt{3624}{1016}{KSE350}
\Cn{3560}{1486}{VD13}\Pt{3564}{1528}{3,3V}
\Cn{3560}{1801}{VD14}\Pt{3566}{1842}{10V}
\Cn{3088}{2234}{VD11}\Pt{3092}{2275}{15V}
\Cn{3088}{2903}{VD12}\Pt{3092}{2945}{5,6V}
\Cn{3623}{2439}{VT13}\Pt{3624}{2472}{KSE340}
\Cn{3878}{548}{VT14A}\Cn{3978}{548}{VT14B}\Pt{3919}{589}{MBT3906DW1}
\Cn{4155}{805}{VD15}\Pt{4155}{841}{BAS20}
\Cn{4313}{805}{VD17}\Pt{4313}{841}{BAS20}
\Cn{4155}{2498}{VD16}\Pt{4155}{2533}{BAS20}
\Cn{4313}{2498}{VD18}\Pt{4313}{2533}{BAS20}
\Cn{4529}{667}{VT16}\Pt{4530}{701}{KSE1381}
\Cn{4135}{2833}{VT15}\Pt{4161}{2873}{MMBT3904LT1}
\Cn{4529}{2754}{VT17}\Pt{4550}{2788}{KSC3503}
\Cn{4628}{1473}{VD19}\Pt{4628}{1513}{BAV99}
\Cn{4628}{1749}{VD20}\Pt{4628}{1789}{BAV99}
% ---------- current markers
\cur{866}{1031}{8,5 mA}\cur{985}{1031}{0,5 mA}\cur{1102}{1031}{0,5 mA}
\cur{1300}{1071}{0,14 mA}\cur{1300}{2684}{0,28 mA}
\cur{2048}{1070}{2,2 mA}\cur{1733}{2685}{11 mA}\cur{1890}{2685}{0,5 mA}
\cur{3506}{1110}{7 mA}\cur{3506}{2330}{7 mA}\cur{4411}{1110}{9.6 mA}
\end{tikzpicture}
\end{document}
